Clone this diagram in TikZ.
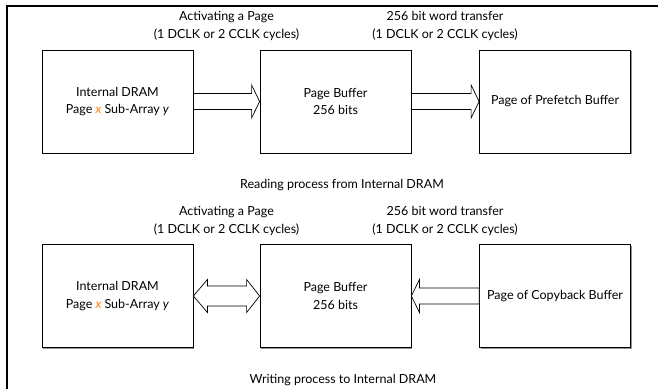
\documentclass[tikz,border=0pt]{standalone}
\usepackage{fontspec}
\setmainfont{Lato}
\usetikzlibrary{calc,shadows}

% block arrow from the east side of #1 to the west side of #2
\newcommand\blockright[2]{%
  \draw[barrow] let \p1=(#1.east), \p2=(#2.west) in
    (\x1,\y1+8pt) -- (\x2-8pt,\y1+8pt) -- (\x2-8pt,\y1+16.5pt) -- (\x2,\y1)
    -- (\x2-8pt,\y1-16.5pt) -- (\x2-8pt,\y1-8pt) -- (\x1,\y1-8pt) -- cycle;}
% block arrow from the west side of #1 to the east side of #2
\newcommand\blockleft[2]{%
  \draw[barrow] let \p1=(#1.west), \p2=(#2.east) in
    (\x1,\y1+8pt) -- (\x2+8pt,\y1+8pt) -- (\x2+8pt,\y1+16.5pt) -- (\x2,\y1)
    -- (\x2+8pt,\y1-16.5pt) -- (\x2+8pt,\y1-8pt) -- (\x1,\y1-8pt) -- cycle;}
% two-headed block arrow between the east side of #1 and the west side of #2
\newcommand\blockboth[2]{%
  \draw[barrow] let \p1=(#1.east), \p2=(#2.west) in
    (\x1,\y1) -- (\x1+14pt,\y1+16.5pt) -- (\x1+14pt,\y1+10pt) -- (\x2-13pt,\y1+10pt)
    -- (\x2-13pt,\y1+16.5pt) -- (\x2,\y1) -- (\x2-13pt,\y1-16.5pt) -- (\x2-13pt,\y1-10pt)
    -- (\x1+14pt,\y1-10pt) -- (\x1+14pt,\y1-16.5pt) -- cycle;}

\begin{document}
\begin{tikzpicture}[x=1pt,y=-1pt,
  font=\fontsize{12.5}{17.5}\selectfont,
  blk/.style={draw=black, line width=0.8pt, fill=white, inner sep=0pt,
    minimum width=151pt, minimum height=103pt, align=center,
    drop shadow={shadow xshift=1.3pt, shadow yshift=-1.3pt, fill=gray!85, opacity=1}},
  lbl/.style={align=center, inner sep=0pt},
  barrow/.style={draw=black, line width=0.7pt, fill=white, line join=miter}]
\useasboundingbox (0,0) rectangle (658,388);

% outer frame
\draw[line width=2pt] (7,390) -- (7,6) -- (660,6);

% reading process
\node[blk] (r1) at (117.5,101.5) {Internal DRAM\\Page \textcolor{orange}{\textit{x}} Sub-Array \textit{y}};
\node[blk] (r2) at (335.5,101.5) {Page Buffer\\256 bits};
\node[blk] (r3) at (555,101.5) {Page of Prefetch Buffer};
\node[lbl] (ra) at (226.5,26) {Activating a Page\\(1 DCLK or 2 CCLK cycles)};
\node[lbl] (rb) at (445,26) {256 bit word transfer\\(1 DCLK or 2 CCLK cycles)};
\node[lbl] (rc) at (342,185) {Reading process from Internal DRAM};
\blockright{r1}{r2}
\blockright{r2}{r3}

% writing process
\node[blk] (w1) at (117.5,296) {Internal DRAM\\Page \textcolor{orange}{\textit{x}} Sub-Array \textit{y}};
\node[blk] (w2) at (335.5,296) {Page Buffer\\256 bits};
\node[blk] (w3) at (555,296) {Page of Copyback Buffer};
\node[lbl] (wa) at (226.5,221) {Activating a Page\\(1 DCLK or 2 CCLK cycles)};
\node[lbl] (wb) at (445,221) {256 bit word transfer\\(1 DCLK or 2 CCLK cycles)};
\node[lbl] (wc) at (343,380) {Writing process to Internal DRAM};
\blockboth{w1}{w2}
\blockleft{w3}{w2}
\end{tikzpicture}
\end{document}
